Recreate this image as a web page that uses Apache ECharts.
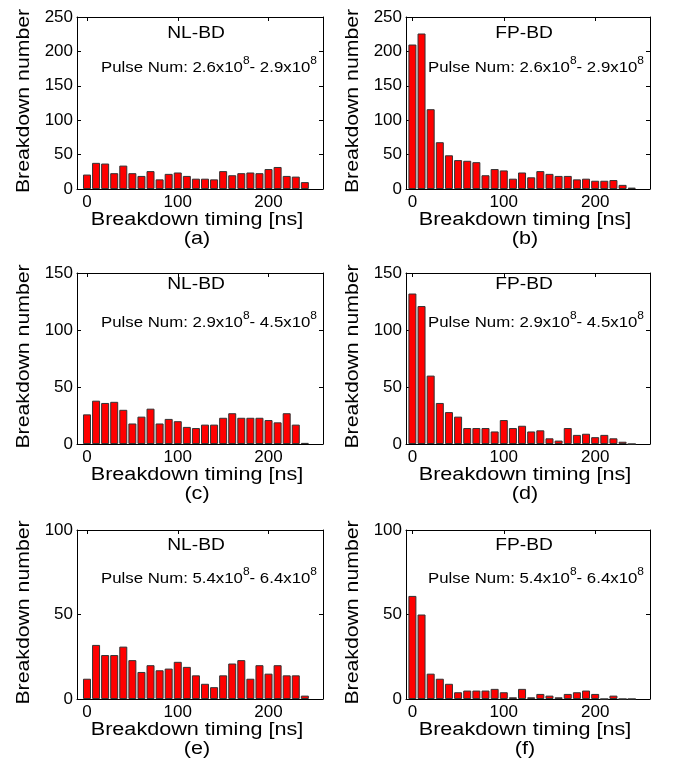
<!DOCTYPE html>
<html><head><meta charset="utf-8">
<script src="https://cdn.jsdelivr.net/npm/echarts@6/dist/echarts.min.js"></script>
<style>html,body{margin:0;padding:0;background:#fff}#c{width:673px;height:767px}</style>
</head><body><div id="c"></div>
<script>
// ---- data ----
const binCenters = [0,10,20,30,40,50,60,70,80,90,100,110,120,130,140,150,160,170,180,190,200,210,220,230,240];
const countsA = [21,38,37,23,34,23,19,26,14,22,24,19,15,15,14,26,20,23,24,23,29,32,19,18,10];
const countsB = [210,226,116,68,49,42,41,39,20,29,27,15,24,17,26,22,19,19,14,15,12,12,13,6,2];
const countsC = [26,38,36,37,30,18,24,31,18,22,20,15,14,17,17,23,27,23,23,23,21,19,27,17,1];
const countsD = [132,121,60,36,28,24,14,14,14,11,21,14,16,11,12,5,3,14,8,9,6,8,5,2,0];
const countsE = [12,32,26,26,31,23,16,20,17,18,22,19,14,9,7,14,21,23,12,20,15,20,14,14,2];
const countsF = [61,50,15,12,9,4,5,5,5,6,4,1,6,1,3,2,1,3,4,5,3,0,2,0,0];
const xTickValues = [0,100,200];
const yMaxByRow = [250,150,100];
const panelTags = ['(a)','(b)','(c)','(d)','(e)','(f)'];
const typeNames = ['NL-BD','FP-BD'];
const pulseFrom = ['2.6','2.9','5.4'];
const pulseTo = ['2.9','4.5','6.4'];
const xTitle = 'Breakdown timing [ns]';
const yTitle = 'Breakdown number';

// ---- layout ----
const FONT = '"Liberation Sans", Arial, Helvetica, sans-serif';
const colLeft = [77, 406], colWidth = [246, 244];
const rowTop = [17, 273, 530], rowHeight = [172, 171, 169];
const xMinByCol = [-11, -7], xMax = 260;
const allCounts = [countsA, countsB, countsC, countsD, countsE, countsF];

const grids = [], xAxes = [], yAxes = [], series = [], graphics = [];
const black = {color:'#000', width:1};
for (let r = 0; r < 3; r++) {
  for (let c = 0; c < 2; c++) {
    const i = r*2 + c;
    grids.push({left: colLeft[c], top: rowTop[r], width: colWidth[c], height: rowHeight[r], containLabel: false});
    const xBase = {gridIndex: i, type: 'value', min: xMinByCol[c], max: xMax, splitLine: {show:false},
      axisLine: {show:true, onZero:false, lineStyle: black}};
    xAxes.push(Object.assign({}, xBase, {position:'bottom',
      axisTick: {show:true, inside:true, length:4, customValues: xTickValues, lineStyle: black},
      axisLabel: {show:true, customValues: xTickValues, fontSize:17, color:'#000', fontFamily: FONT, margin:5}}));
    xAxes.push(Object.assign({}, xBase, {position:'top',
      axisTick: {show:true, inside:true, length:4, customValues: xTickValues, lineStyle: black},
      axisLabel: {show:false}}));
    const yBase = {gridIndex: i, type:'value', min:0, max: yMaxByRow[r], interval:50, splitLine:{show:false},
      axisLine: {show:true, onZero:false, lineStyle: black},
      axisTick: {show:true, inside:true, length:4, lineStyle: black}};
    yAxes.push(Object.assign({}, yBase, {position:'left',
      axisLabel: {show:true, fontSize:17, color:'#000', fontFamily: FONT, margin:4}}));
    yAxes.push(Object.assign({}, yBase, {position:'right', axisLabel:{show:false}}));
    series.push({type:'bar', xAxisIndex: i*2, yAxisIndex: i*2, barWidth: 8,
      data: binCenters.map((x,k) => [x, allCounts[i][k]]),
      itemStyle: {color:'#ff0000', borderColor:'#333', borderWidth:1}});

    const cx = colLeft[c] + colWidth[c]/2 - 3;
    const bottom = rowTop[r] + rowHeight[r];
    // x title
    graphics.push({type:'text', x: cx, y: bottom + 31, scaleX: 1.2,
      style:{text: xTitle, x:0, y:0, fontSize:18, fontFamily: FONT, fill:'#000', align:'center', verticalAlign:'middle'}});
    // caption
    graphics.push({type:'text', x: cx, y: bottom + 50, scaleX: 1.2,
      style:{text: panelTags[i], x:0, y:0, fontSize:18, fontFamily: FONT, fill:'#000', align:'center', verticalAlign:'middle'}});
    // y title
    graphics.push({type:'text', x: c === 0 ? 24 : 353, y: rowTop[r] + rowHeight[r]/2 - 2, rotation: Math.PI/2, scaleX: 1.18,
      style:{text: yTitle, x:0, y:0, fontSize:18, fontFamily: FONT, fill:'#000', align:'center', verticalAlign:'middle'}});
    // type name
    graphics.push({type:'text', x: c === 0 ? 196 : 524, y: rowTop[r] + [17,12,16][r], scaleX: 1.2,
      style:{text: typeNames[c], x:0, y:0, fontSize:16, fontFamily: FONT, fill:'#000', align:'center', verticalAlign:'middle'}});
    // pulse range
    graphics.push({type:'text', x: c === 0 ? 101 : 428, y: rowTop[r] + [51,50,49][r], scaleX: 1.2,
      style:{text: '{n|Pulse Num: ' + pulseFrom[r] + 'x10}{s|8}{n|- ' + pulseTo[r] + 'x10}{s|8}',
        x:0, y:0, align:'left', verticalAlign:'middle', fontFamily: FONT, fill:'#000',
        rich: {n:{fontSize:14, lineHeight:24, fontFamily: FONT, fill:'#000'},
               s:{fontSize:10, lineHeight:10, verticalAlign:'top', fontFamily: FONT, fill:'#000'}}}});
  }
}

const chart = echarts.init(document.getElementById('c'), null, {renderer:'canvas'});
chart.setOption({
  animation: false,
  backgroundColor: '#fff',
  textStyle: {fontFamily: FONT},
  grid: grids, xAxis: xAxes, yAxis: yAxes, series: series, graphic: graphics
});
</script></body></html>
